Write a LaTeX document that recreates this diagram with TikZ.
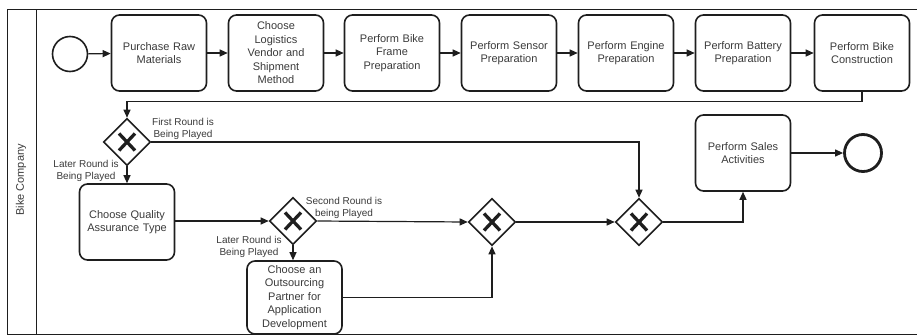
\documentclass[tikz,border=0pt]{standalone}
\usepackage{fontspec}
\setmainfont{Liberation Sans}
\usetikzlibrary{shapes.geometric,arrows.meta}
\definecolor{txt}{HTML}{3A3A3A}
\definecolor{ln}{HTML}{1E1E1E}
\tikzset{
  task/.style={draw=ln, line width=1.6pt, rounded corners=8pt, minimum width=95pt, minimum height=76pt,
    inner sep=2pt, align=center, text=txt, font=\fontsize{11}{13.5}\selectfont, text width=88pt},
  gw/.style={draw=ln, diamond, line width=1.6pt, minimum width=47pt, minimum height=47pt, inner sep=0pt,
    path picture={
      \draw[line width=3.3pt, ln] ([shift={(-8pt,-8.5pt)}]path picture bounding box.center) -- ([shift={(8pt,8.5pt)}]path picture bounding box.center);
      \draw[line width=3.3pt, ln] ([shift={(-8pt,8.5pt)}]path picture bounding box.center) -- ([shift={(8pt,-8.5pt)}]path picture bounding box.center);
    }},
  ev/.style={draw=ln, circle, inner sep=0pt},
  flow/.style={draw=ln, line width=1.2pt, -{Triangle[length=8pt,width=7pt]}},
  plain/.style={draw=ln, line width=1.2pt},
  lbl/.style={text=txt, font=\fontsize{10}{12}\selectfont, align=center, inner sep=0pt}
}
\begin{document}
\begin{tikzpicture}[x=1pt,y=-1pt]
\useasboundingbox (0,0) rectangle (917,335);
% pool
\draw[ln, line width=1pt] (925,9) -- (7,9) -- (7,334) -- (925,334);
\draw[ln, line width=1pt] (36,9) -- (36,334);
\node[lbl, rotate=90] (lane) at (21,180) {\fontsize{11}{13}\selectfont Bike Company};
% events
\node[ev, line width=1.6pt, minimum size=35pt] (start) at (70,54) {};
\node[ev, line width=2.8pt, minimum size=37pt] (end) at (863,153) {};
% tasks top row
\node[task] (t1) at (159,53) {Purchase Raw\\Materials};
\node[task] (t2) at (276,53) {Choose\\Logistics\\Vendor and\\Shipment\\Method};
\node[task] (t3) at (392,53) {Perform Bike\\Frame\\Preparation};
\node[task] (t4) at (509,53) {Perform Sensor\\Preparation};
\node[task] (t5) at (626,53) {Perform Engine\\Preparation};
\node[task] (t6) at (743,53) {Perform Battery\\Preparation};
\node[task] (t7) at (862,53) {Perform Bike\\Construction};
% lower
\node[task] (qa) at (127,222) {Choose Quality\\Assurance Type};
\node[task, minimum height=73pt] (os) at (294.5,297.5) {Choose an\\Outsourcing\\Partner for\\Application\\Development};
\node[task] (sales) at (743,153) {Perform Sales\\Activities};
% gateways
\node[gw] (g1) at (127,142) {};
\node[gw] (g2) at (293,221) {};
\node[gw] (g3) at (492,222) {};
\node[gw] (g4) at (639,222) {};
% labels
\node[lbl] (l1) at (183,128.5) {First Round is\\Being Played};
\node[lbl] (l2) at (86,170.5) {Later Round is\\Being Played};
\node[lbl] (l3) at (344,207.5) {Second Round is\\being Played};
\node[lbl] (l4) at (249,247) {Later Round is\\Being Played};
% flows
\draw[flow] (start) -- (t1);
\draw[flow] (t1) -- (t2);
\draw[flow] (t2) -- (t3);
\draw[flow] (t3) -- (t4);
\draw[flow] (t4) -- (t5);
\draw[flow] (t5) -- (t6);
\draw[flow] (t6) -- (t7);
\draw[flow] (t7.south) -- ++(0,10) -| (g1.north);
\draw[flow] (g1.east) -| (g4.north);
\draw[flow] (g1.south) -- (qa.north);
\draw[flow] (qa.east |- g2.west) -- (g2.west);
\draw[flow] (g2.south) -- (g2.south |- os.north);
\draw[flow] (g2.east) -- (g3.west);
\draw[flow] (os.east) -| (g3.south);
\draw[flow] (g3.east) -- (g4.west);
\draw[flow] (g4.east) -| (sales.south);
\draw[flow] (sales.east) -- (end.west);
\end{tikzpicture}
\end{document}
